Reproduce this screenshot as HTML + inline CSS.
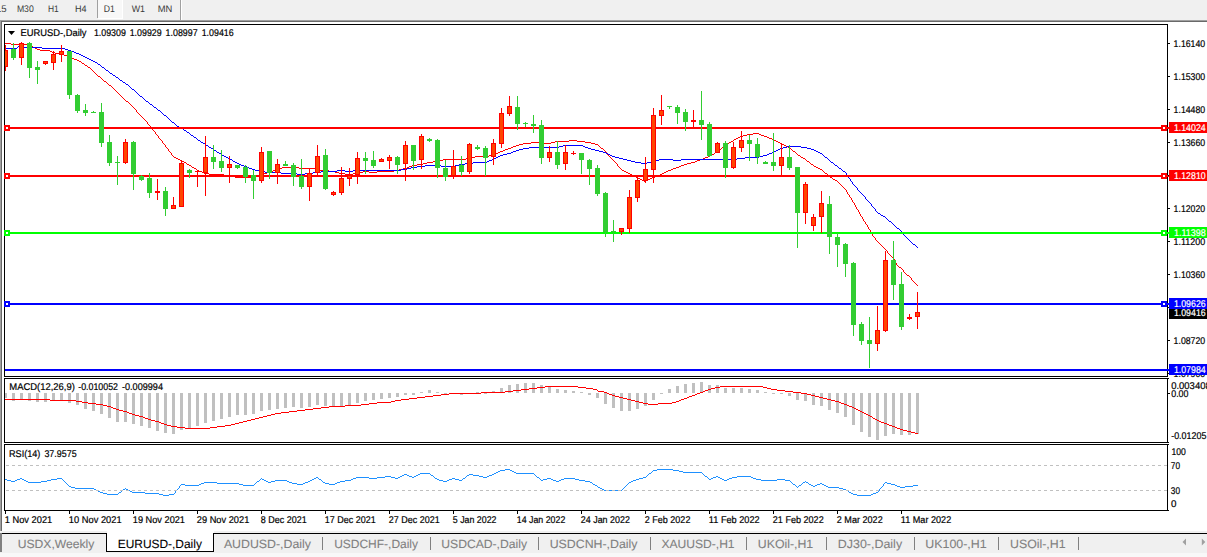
<!DOCTYPE html>
<html><head><meta charset="utf-8"><title>EURUSD-,Daily</title>
<style>html,body{margin:0;padding:0;background:#fff;overflow:hidden}body{width:1207px;height:557px}</style></head>
<body>
<svg width="1207" height="557" viewBox="0 0 1207 557" font-family="&quot;Liberation Sans&quot;, sans-serif" text-rendering="geometricPrecision" style="display:block">
<rect x="0" y="0" width="1207" height="557" fill="#ffffff" />
<g shape-rendering="crispEdges">
<rect x="0" y="0" width="1207" height="20" fill="#f0f0f0" />
<rect x="97" y="0" width="1" height="18" fill="#a0a0a0" />
<rect x="98" y="0" width="24" height="18" fill="#f8f8f8" />
<rect x="122" y="0" width="1" height="19" fill="#ffffff" />
<rect x="98" y="18" width="25" height="1" fill="#ffffff" />
<rect x="180" y="0" width="1" height="20" fill="#a0a0a0" />
<rect x="181" y="0" width="1" height="20" fill="#ffffff" />
<rect x="0" y="20" width="1207" height="1" fill="#a0a0a0" />
<rect x="1" y="21" width="1207" height="1" fill="#696969" />
<rect x="0" y="20" width="1" height="511" fill="#a0a0a0" />
<rect x="1" y="21" width="1" height="510" fill="#696969" />
<rect x="0" y="531" width="1207" height="2" fill="#f0f0f0" />
<rect x="0" y="533" width="1207" height="20" fill="#f0f0f0" />
<rect x="0" y="553" width="1207" height="4" fill="#f8f8f8" />
<rect x="0" y="533" width="1207" height="1" fill="#000000" />
<rect x="0" y="533" width="2" height="19" fill="#808080" />
<rect x="107" y="531" width="107" height="21" fill="#ffffff" />
<rect x="106" y="533" width="1" height="19" fill="#000000" />
<rect x="213" y="533" width="1" height="19" fill="#000000" />
<rect x="106" y="551" width="108" height="1" fill="#000000" />
<rect x="322" y="537" width="1" height="13" fill="#808080" />
<rect x="430" y="537" width="1" height="13" fill="#808080" />
<rect x="538" y="537" width="1" height="13" fill="#808080" />
<rect x="650" y="537" width="1" height="13" fill="#808080" />
<rect x="746" y="537" width="1" height="13" fill="#808080" />
<rect x="826" y="537" width="1" height="13" fill="#808080" />
<rect x="914" y="537" width="1" height="13" fill="#808080" />
<rect x="998" y="537" width="1" height="13" fill="#808080" />
<rect x="1078" y="537" width="1" height="13" fill="#808080" />
</g>
<path d="M1182.5 542 L1186 538.5 L1186 545.5 Z" fill="#a0a0a0"/>
<path d="M1205.3 542 L1201.8 538.5 L1201.8 545.5 Z" fill="#a0a0a0"/>
<g style="opacity:0.995">
<text x="6.6" y="12" font-size="9.6" fill="#3a3a3a" text-anchor="end" >M15</text>
<text x="16.9" y="12" font-size="9.6" fill="#3a3a3a" textLength="16.9" lengthAdjust="spacingAndGlyphs" >M30</text>
<text x="48" y="12" font-size="9.6" fill="#3a3a3a" textLength="10.8" lengthAdjust="spacingAndGlyphs" >H1</text>
<text x="74.9" y="12" font-size="9.6" fill="#3a3a3a" textLength="11.6" lengthAdjust="spacingAndGlyphs" >H4</text>
<text x="103.7" y="12" font-size="9.6" fill="#3a3a3a" textLength="11.1" lengthAdjust="spacingAndGlyphs" >D1</text>
<text x="131.7" y="12" font-size="9.6" fill="#3a3a3a" textLength="13.3" lengthAdjust="spacingAndGlyphs" >W1</text>
<text x="157.7" y="12" font-size="9.6" fill="#3a3a3a" textLength="14.6" lengthAdjust="spacingAndGlyphs" >MN</text>
</g>
<text x="17.7" y="547.6" font-size="12" fill="#808080" stroke="#808080" stroke-width="0.1" textLength="76.7" lengthAdjust="spacingAndGlyphs" >USDX,Weekly</text>
<text x="117.7" y="547.6" font-size="12" fill="#000000" stroke="#000000" stroke-width="0.1" textLength="84.2" lengthAdjust="spacingAndGlyphs" >EURUSD-,Daily</text>
<text x="223.9" y="547.6" font-size="12" fill="#808080" stroke="#808080" stroke-width="0.1" textLength="87.1" lengthAdjust="spacingAndGlyphs" >AUDUSD-,Daily</text>
<text x="334.2" y="547.6" font-size="12" fill="#808080" stroke="#808080" stroke-width="0.1" textLength="83.8" lengthAdjust="spacingAndGlyphs" >USDCHF-,Daily</text>
<text x="441.3" y="547.6" font-size="12" fill="#808080" stroke="#808080" stroke-width="0.1" textLength="85.7" lengthAdjust="spacingAndGlyphs" >USDCAD-,Daily</text>
<text x="549.7" y="547.6" font-size="12" fill="#808080" stroke="#808080" stroke-width="0.1" textLength="87.8" lengthAdjust="spacingAndGlyphs" >USDCNH-,Daily</text>
<text x="661.4" y="547.6" font-size="12" fill="#808080" stroke="#808080" stroke-width="0.1" textLength="73.2" lengthAdjust="spacingAndGlyphs" >XAUUSD-,H1</text>
<text x="757.8" y="547.6" font-size="12" fill="#808080" stroke="#808080" stroke-width="0.1" textLength="55.4" lengthAdjust="spacingAndGlyphs" >UKOil-,H1</text>
<text x="837.8" y="547.6" font-size="12" fill="#808080" stroke="#808080" stroke-width="0.1" textLength="64.3" lengthAdjust="spacingAndGlyphs" >DJ30-,Daily</text>
<text x="925.3" y="547.6" font-size="12" fill="#808080" stroke="#808080" stroke-width="0.1" textLength="61.3" lengthAdjust="spacingAndGlyphs" >UK100-,H1</text>
<text x="1010" y="547.6" font-size="12" fill="#808080" stroke="#808080" stroke-width="0.1" textLength="55.5" lengthAdjust="spacingAndGlyphs" >USOil-,H1</text>
<g shape-rendering="crispEdges">
</g>
<path d="M5 43.5h6M11 44.5h18M29 45.5h2M31 46.5h2M33 47.5h2M35 48.5h2M37 49.5h3M40 50.5h10M50 51.5h2M52 52.5h3M55 53.5h4M59 54.5h5M64 55.5h4M68 56.5h2M70 57.5h2M72 58.5h2M74 59.5h3M77 60.5h2M79 61.5h2M81 62.5h1M82 63.5h2M84 64.5h1M85 65.5h2M87 66.5h1M88 67.5h2M90 68.5h1M91 69.5h1M92 70.5h1M93 71.5h1M94 72.5h1M95 73.5h1M96 74.5h1M97 75.5h1M98 76.5h2M100 77.5h1M101 78.5h1M102 79.5h1M103 80.5h1M104 81.5h2M106 82.5h1M107 83.5h1M108 84.5h1M109 85.5h2M111 86.5h1M112 87.5h1M113 88.5h1M114 89.5h1M115 90.5h1M116 91.5h1M117 92.5h1M118 93.5h1M119 94.5h1M120 95.5h1M121 96.5h1M122 97.5h1M123 98.5h1M124 99.5h1M125 100.5h1M126 101.5h2M128 102.5h1M129 103.5h1M130 104.5h1M131 105.5h1M132 106.5h1M133 107.5h1M134 108.5h1M135 109.5h1M136 110.5h1M136 111.5h1M137 112.5h1M138 113.5h1M139 114.5h1M140 115.5h1M141 116.5h1M142 117.5h1M143 118.5h1M144 119.5h1M145 120.5h1M146 121.5h1M147 122.5h1M147 123.5h1M148 124.5h1M149 125.5h1M150 126.5h1M151 127.5h1M152 128.5h1M152 129.5h1M153 130.5h1M154 131.5h1M155 132.5h1M155 133.5h1M753 133.5h6M156 134.5h1M747 134.5h6M759 134.5h2M157 135.5h1M743 135.5h4M761 135.5h3M158 136.5h1M740 136.5h3M764 136.5h3M158 137.5h1M738 137.5h2M767 137.5h2M159 138.5h1M736 138.5h2M769 138.5h3M160 139.5h1M734 139.5h2M772 139.5h2M161 140.5h1M569 140.5h8M733 140.5h1M774 140.5h2M162 141.5h1M555 141.5h14M577 141.5h8M731 141.5h2M776 141.5h2M162 142.5h1M531 142.5h12M551 142.5h4M585 142.5h6M729 142.5h2M778 142.5h2M163 143.5h1M523 143.5h8M543 143.5h8M591 143.5h4M728 143.5h1M780 143.5h2M164 144.5h1M519 144.5h4M595 144.5h3M726 144.5h2M782 144.5h2M165 145.5h1M516 145.5h3M598 145.5h1M725 145.5h1M784 145.5h2M165 146.5h1M513 146.5h3M599 146.5h1M723 146.5h2M786 146.5h2M166 147.5h1M511 147.5h2M600 147.5h1M722 147.5h1M788 147.5h2M167 148.5h1M508 148.5h3M601 148.5h2M721 148.5h1M790 148.5h1M168 149.5h1M505 149.5h3M603 149.5h1M719 149.5h2M791 149.5h1M168 150.5h1M503 150.5h2M604 150.5h1M718 150.5h1M792 150.5h1M169 151.5h1M500 151.5h3M605 151.5h1M717 151.5h1M793 151.5h2M170 152.5h1M498 152.5h2M606 152.5h1M715 152.5h2M795 152.5h1M171 153.5h1M496 153.5h2M607 153.5h1M714 153.5h1M796 153.5h1M171 154.5h1M494 154.5h2M607 154.5h1M712 154.5h2M797 154.5h1M172 155.5h1M489 155.5h5M608 155.5h1M710 155.5h2M798 155.5h2M173 156.5h1M475 156.5h14M609 156.5h1M708 156.5h2M800 156.5h1M174 157.5h2M470 157.5h5M610 157.5h1M705 157.5h3M801 157.5h2M176 158.5h2M466 158.5h4M611 158.5h1M703 158.5h2M803 158.5h2M178 159.5h2M443 159.5h23M612 159.5h1M700 159.5h3M805 159.5h1M180 160.5h2M439 160.5h4M613 160.5h1M697 160.5h3M806 160.5h1M182 161.5h2M433 161.5h6M614 161.5h1M695 161.5h2M807 161.5h2M184 162.5h2M427 162.5h6M615 162.5h1M691 162.5h4M809 162.5h1M186 163.5h1M423 163.5h4M616 163.5h1M687 163.5h4M810 163.5h1M187 164.5h2M417 164.5h6M617 164.5h1M684 164.5h3M811 164.5h2M189 165.5h2M412 165.5h5M617 165.5h1M681 165.5h3M813 165.5h1M191 166.5h1M409 166.5h3M618 166.5h1M679 166.5h2M814 166.5h2M192 167.5h2M282 167.5h17M407 167.5h2M619 167.5h1M676 167.5h3M816 167.5h2M194 168.5h2M279 168.5h3M299 168.5h17M403 168.5h4M620 168.5h1M673 168.5h3M818 168.5h2M196 169.5h1M276 169.5h3M316 169.5h1M399 169.5h4M621 169.5h1M671 169.5h2M820 169.5h2M197 170.5h2M273 170.5h3M317 170.5h12M394 170.5h5M622 170.5h2M668 170.5h3M822 170.5h1M199 171.5h3M271 171.5h2M329 171.5h6M363 171.5h6M377 171.5h17M624 171.5h2M666 171.5h2M823 171.5h1M202 172.5h2M267 172.5h4M335 172.5h4M359 172.5h4M369 172.5h8M626 172.5h2M664 172.5h2M824 172.5h1M204 173.5h5M263 173.5h4M339 173.5h6M353 173.5h6M628 173.5h2M662 173.5h2M825 173.5h2M209 174.5h15M260 174.5h3M345 174.5h8M630 174.5h2M660 174.5h2M827 174.5h1M224 175.5h6M258 175.5h2M632 175.5h2M657 175.5h3M828 175.5h1M230 176.5h5M255 176.5h3M634 176.5h2M655 176.5h2M829 176.5h1M235 177.5h20M636 177.5h2M652 177.5h3M830 177.5h2M638 178.5h2M650 178.5h2M832 178.5h1M640 179.5h2M648 179.5h2M833 179.5h2M642 180.5h2M646 180.5h2M835 180.5h2M644 181.5h2M837 181.5h1M838 182.5h1M839 183.5h1M840 184.5h1M841 185.5h1M842 186.5h1M843 187.5h1M844 188.5h1M845 189.5h1M846 190.5h1M846 191.5h1M847 192.5h1M847 193.5h1M848 194.5h1M849 195.5h1M849 196.5h1M850 197.5h1M851 198.5h1M851 199.5h1M852 200.5h1M852 201.5h1M853 202.5h1M854 203.5h1M854 204.5h1M855 205.5h1M855 206.5h1M856 207.5h1M856 208.5h1M857 209.5h1M858 210.5h1M858 211.5h1M859 212.5h1M859 213.5h1M860 214.5h1M860 215.5h1M861 216.5h1M862 217.5h1M862 218.5h1M863 219.5h1M863 220.5h1M864 221.5h1M865 222.5h1M865 223.5h1M866 224.5h1M867 225.5h1M867 226.5h1M868 227.5h1M868 228.5h1M869 229.5h1M870 230.5h1M870 231.5h1M871 232.5h1M871 233.5h1M872 234.5h1M872 235.5h1M873 236.5h1M874 237.5h1M875 238.5h1M875 239.5h1M876 240.5h1M877 241.5h1M878 242.5h1M879 243.5h1M880 244.5h1M881 245.5h1M882 246.5h1M883 247.5h1M884 248.5h1M885 249.5h1M886 250.5h1M887 251.5h1M887 252.5h1M888 253.5h1M889 254.5h1M890 255.5h1M891 256.5h1M892 257.5h1M893 258.5h1M894 259.5h1M894 260.5h1M895 261.5h1M895 262.5h1M896 263.5h1M896 264.5h1M897 265.5h1M898 266.5h1M899 267.5h2M901 268.5h1M902 269.5h1M903 270.5h1M903 271.5h1M904 272.5h1M905 273.5h1M906 274.5h1M907 275.5h2M909 276.5h1M910 277.5h1M911 278.5h1M911 279.5h1M912 280.5h1M913 281.5h1M914 282.5h1M915 283.5h1M916 284.5h1M917 285.5h1" fill="none" stroke="#ff0000" stroke-width="1" shape-rendering="crispEdges"/>
<path d="M18 46.5h2M17 47.5h1M20 47.5h22M5 48.5h12M42 48.5h23M65 49.5h3M68 50.5h3M71 51.5h3M74 52.5h2M76 53.5h3M79 54.5h2M81 55.5h2M83 56.5h2M85 57.5h2M87 58.5h2M89 59.5h2M91 60.5h2M93 61.5h2M95 62.5h2M97 63.5h1M98 64.5h2M100 65.5h1M101 66.5h1M102 67.5h2M104 68.5h1M105 69.5h1M106 70.5h2M108 71.5h1M109 72.5h1M110 73.5h2M112 74.5h1M113 75.5h2M115 76.5h1M116 77.5h2M118 78.5h1M119 79.5h1M120 80.5h2M122 81.5h1M123 82.5h2M125 83.5h1M126 84.5h2M128 85.5h1M129 86.5h1M130 87.5h1M131 88.5h1M132 89.5h2M134 90.5h1M135 91.5h1M136 92.5h1M137 93.5h1M138 94.5h1M139 95.5h1M140 96.5h2M142 97.5h1M143 98.5h1M144 99.5h1M145 100.5h1M146 101.5h2M148 102.5h1M149 103.5h1M150 104.5h2M152 105.5h1M153 106.5h1M154 107.5h2M156 108.5h1M157 109.5h1M158 110.5h2M160 111.5h1M161 112.5h1M162 113.5h1M163 114.5h1M164 115.5h2M166 116.5h1M167 117.5h1M168 118.5h1M169 119.5h1M170 120.5h1M171 121.5h1M172 122.5h2M174 123.5h1M175 124.5h1M176 125.5h1M177 126.5h2M179 127.5h2M181 128.5h2M183 129.5h1M184 130.5h2M186 131.5h1M187 132.5h2M189 133.5h1M190 134.5h1M191 135.5h2M193 136.5h1M194 137.5h2M196 138.5h1M197 139.5h1M198 140.5h2M200 141.5h1M201 142.5h2M203 143.5h2M205 144.5h1M206 145.5h2M563 145.5h20M208 146.5h1M559 146.5h4M583 146.5h2M787 146.5h14M209 147.5h2M529 147.5h30M585 147.5h3M783 147.5h4M801 147.5h6M211 148.5h2M523 148.5h6M588 148.5h3M780 148.5h3M807 148.5h4M213 149.5h1M519 149.5h4M591 149.5h4M778 149.5h2M811 149.5h3M214 150.5h2M516 150.5h3M595 150.5h4M776 150.5h2M814 150.5h2M216 151.5h1M513 151.5h3M599 151.5h4M774 151.5h2M816 151.5h2M217 152.5h2M511 152.5h2M603 152.5h3M772 152.5h2M818 152.5h2M219 153.5h2M507 153.5h4M606 153.5h2M769 153.5h3M820 153.5h2M221 154.5h1M503 154.5h4M608 154.5h2M767 154.5h2M822 154.5h1M222 155.5h2M500 155.5h3M610 155.5h2M763 155.5h4M823 155.5h1M224 156.5h2M498 156.5h2M612 156.5h3M759 156.5h4M824 156.5h1M226 157.5h2M496 157.5h2M615 157.5h4M745 157.5h14M825 157.5h2M228 158.5h2M494 158.5h2M619 158.5h4M737 158.5h8M827 158.5h1M230 159.5h2M492 159.5h2M623 159.5h4M659 159.5h14M681 159.5h56M828 159.5h1M232 160.5h1M489 160.5h3M627 160.5h4M655 160.5h4M673 160.5h8M829 160.5h1M233 161.5h2M487 161.5h2M631 161.5h4M651 161.5h4M830 161.5h1M235 162.5h2M473 162.5h14M635 162.5h6M647 162.5h4M831 162.5h2M237 163.5h2M465 163.5h8M641 163.5h6M833 163.5h1M239 164.5h2M459 164.5h6M834 164.5h1M241 165.5h3M425 165.5h16M455 165.5h4M835 165.5h2M244 166.5h3M417 166.5h8M441 166.5h14M837 166.5h1M247 167.5h2M411 167.5h6M838 167.5h1M249 168.5h3M407 168.5h4M839 168.5h2M252 169.5h3M401 169.5h6M841 169.5h1M255 170.5h4M337 170.5h8M353 170.5h48M842 170.5h1M259 171.5h6M321 171.5h16M345 171.5h8M843 171.5h2M265 172.5h16M313 172.5h8M845 172.5h1M281 173.5h16M305 173.5h8M846 173.5h1M297 174.5h8M846 174.5h1M847 175.5h1M848 176.5h1M848 177.5h1M849 178.5h1M850 179.5h1M850 180.5h1M851 181.5h1M852 182.5h1M852 183.5h1M853 184.5h1M854 185.5h1M855 186.5h1M856 187.5h1M857 188.5h1M857 189.5h1M858 190.5h1M859 191.5h1M860 192.5h1M861 193.5h1M862 194.5h1M863 195.5h1M864 196.5h1M865 197.5h1M865 198.5h1M866 199.5h1M867 200.5h1M868 201.5h1M869 202.5h1M870 203.5h1M871 204.5h1M871 205.5h1M872 206.5h1M873 207.5h1M874 208.5h1M875 209.5h1M875 210.5h1M876 211.5h1M877 212.5h1M878 213.5h2M880 214.5h1M881 215.5h2M883 216.5h2M885 217.5h1M886 218.5h1M887 219.5h1M888 220.5h1M889 221.5h2M891 222.5h1M892 223.5h1M893 224.5h1M894 225.5h1M895 226.5h1M896 227.5h1M897 228.5h2M899 229.5h1M900 230.5h1M901 231.5h1M902 232.5h1M903 233.5h1M903 234.5h1M904 235.5h1M905 236.5h1M906 237.5h1M907 238.5h1M908 239.5h1M909 240.5h1M910 241.5h1M911 242.5h1M912 243.5h1M913 244.5h2M915 245.5h1M916 246.5h1M917 247.5h1" fill="none" stroke="#0000ff" stroke-width="1" shape-rendering="crispEdges"/>
<g shape-rendering="crispEdges">
<rect x="5" y="127" width="1164" height="2" fill="#ff0000" />
<rect x="1161" y="125" width="6" height="6" fill="#ff0000" />
<rect x="1163" y="127" width="2" height="2" fill="#ffffff" />
<rect x="5" y="175" width="1164" height="2" fill="#ff0000" />
<rect x="1161" y="173" width="6" height="6" fill="#ff0000" />
<rect x="1163" y="175" width="2" height="2" fill="#ffffff" />
<rect x="5" y="232" width="1164" height="2" fill="#00ff00" />
<rect x="1161" y="230" width="6" height="6" fill="#00ff00" />
<rect x="1163" y="232" width="2" height="2" fill="#ffffff" />
<rect x="5" y="303" width="1164" height="2" fill="#0000ff" />
<rect x="1161" y="301" width="6" height="6" fill="#0000ff" />
<rect x="1163" y="303" width="2" height="2" fill="#ffffff" />
<rect x="5" y="369" width="1164" height="2" fill="#0000ff" />
<rect x="5" y="45" width="1" height="26" fill="#ff0000" />
<rect x="5" y="50" width="3" height="17" fill="#ff0000" />
<rect x="5" y="51" width="2" height="15" fill="#ff4500" />
<rect x="13" y="43" width="1" height="17" fill="#32cd32" />
<rect x="11" y="49" width="5" height="9" fill="#32cd32" />
<rect x="21" y="42" width="1" height="23" fill="#ff0000" />
<rect x="19" y="43" width="5" height="15" fill="#ff0000" />
<rect x="20" y="44" width="3" height="13" fill="#ff4500" />
<rect x="29" y="42" width="1" height="36" fill="#32cd32" />
<rect x="27" y="43" width="5" height="25" fill="#32cd32" />
<rect x="37" y="61" width="1" height="23" fill="#32cd32" />
<rect x="35" y="67" width="5" height="3" fill="#32cd32" />
<rect x="45" y="61" width="1" height="4" fill="#ff0000" />
<rect x="43" y="61" width="5" height="3" fill="#ff0000" />
<rect x="44" y="62" width="3" height="1" fill="#ff4500" />
<rect x="53" y="51" width="1" height="19" fill="#ff0000" />
<rect x="51" y="54" width="5" height="9" fill="#ff0000" />
<rect x="52" y="55" width="3" height="7" fill="#ff4500" />
<rect x="61" y="45" width="1" height="17" fill="#ff0000" />
<rect x="59" y="51" width="5" height="4" fill="#ff0000" />
<rect x="60" y="52" width="3" height="2" fill="#ff4500" />
<rect x="69" y="51" width="1" height="48" fill="#32cd32" />
<rect x="67" y="51" width="5" height="44" fill="#32cd32" />
<rect x="77" y="94" width="1" height="19" fill="#32cd32" />
<rect x="75" y="95" width="5" height="16" fill="#32cd32" />
<rect x="85" y="104" width="1" height="12" fill="#32cd32" />
<rect x="83" y="110" width="5" height="3" fill="#32cd32" />
<rect x="93" y="111" width="1" height="2" fill="#32cd32" />
<rect x="91" y="112" width="5" height="1" fill="#32cd32" />
<rect x="101" y="103" width="1" height="44" fill="#32cd32" />
<rect x="99" y="112" width="5" height="31" fill="#32cd32" />
<rect x="109" y="135" width="1" height="31" fill="#32cd32" />
<rect x="107" y="142" width="5" height="21" fill="#32cd32" />
<rect x="117" y="156" width="1" height="29" fill="#32cd32" />
<rect x="115" y="162" width="5" height="1" fill="#32cd32" />
<rect x="125" y="139" width="1" height="25" fill="#ff0000" />
<rect x="123" y="142" width="5" height="21" fill="#ff0000" />
<rect x="124" y="143" width="3" height="19" fill="#ff4500" />
<rect x="133" y="141" width="1" height="49" fill="#32cd32" />
<rect x="131" y="142" width="5" height="32" fill="#32cd32" />
<rect x="141" y="175" width="1" height="6" fill="#32cd32" />
<rect x="139" y="176" width="5" height="4" fill="#32cd32" />
<rect x="149" y="173" width="1" height="25" fill="#32cd32" />
<rect x="147" y="178" width="5" height="15" fill="#32cd32" />
<rect x="157" y="179" width="1" height="21" fill="#ff0000" />
<rect x="155" y="191" width="5" height="2" fill="#ff0000" />
<rect x="165" y="187" width="1" height="29" fill="#32cd32" />
<rect x="163" y="191" width="5" height="18" fill="#32cd32" />
<rect x="173" y="197" width="1" height="12" fill="#ff0000" />
<rect x="171" y="205" width="5" height="4" fill="#ff0000" />
<rect x="172" y="206" width="3" height="2" fill="#ff4500" />
<rect x="181" y="160" width="1" height="47" fill="#ff0000" />
<rect x="179" y="163" width="5" height="44" fill="#ff0000" />
<rect x="180" y="164" width="3" height="42" fill="#ff4500" />
<rect x="189" y="169" width="1" height="9" fill="#32cd32" />
<rect x="187" y="170" width="5" height="3" fill="#32cd32" />
<rect x="197" y="170" width="1" height="17" fill="#ff0000" />
<rect x="195" y="171" width="5" height="1" fill="#ff0000" />
<rect x="205" y="136" width="1" height="60" fill="#ff0000" />
<rect x="203" y="157" width="5" height="16" fill="#ff0000" />
<rect x="204" y="158" width="3" height="14" fill="#ff4500" />
<rect x="213" y="145" width="1" height="24" fill="#32cd32" />
<rect x="211" y="157" width="5" height="5" fill="#32cd32" />
<rect x="221" y="150" width="1" height="22" fill="#32cd32" />
<rect x="219" y="161" width="5" height="7" fill="#32cd32" />
<rect x="229" y="156" width="1" height="27" fill="#ff0000" />
<rect x="227" y="164" width="5" height="4" fill="#ff0000" />
<rect x="228" y="165" width="3" height="2" fill="#ff4500" />
<rect x="237" y="165" width="1" height="4" fill="#32cd32" />
<rect x="235" y="165" width="5" height="3" fill="#32cd32" />
<rect x="245" y="165" width="1" height="18" fill="#32cd32" />
<rect x="243" y="167" width="5" height="10" fill="#32cd32" />
<rect x="253" y="170" width="1" height="29" fill="#32cd32" />
<rect x="251" y="175" width="5" height="6" fill="#32cd32" />
<rect x="261" y="147" width="1" height="36" fill="#ff0000" />
<rect x="259" y="152" width="5" height="29" fill="#ff0000" />
<rect x="260" y="153" width="3" height="27" fill="#ff4500" />
<rect x="269" y="151" width="1" height="28" fill="#32cd32" />
<rect x="267" y="151" width="5" height="22" fill="#32cd32" />
<rect x="277" y="159" width="1" height="25" fill="#ff0000" />
<rect x="275" y="164" width="5" height="9" fill="#ff0000" />
<rect x="276" y="165" width="3" height="7" fill="#ff4500" />
<rect x="285" y="161" width="1" height="5" fill="#32cd32" />
<rect x="283" y="164" width="5" height="2" fill="#32cd32" />
<rect x="293" y="163" width="1" height="23" fill="#32cd32" />
<rect x="291" y="165" width="5" height="12" fill="#32cd32" />
<rect x="301" y="159" width="1" height="30" fill="#32cd32" />
<rect x="299" y="176" width="5" height="11" fill="#32cd32" />
<rect x="309" y="169" width="1" height="32" fill="#ff0000" />
<rect x="307" y="173" width="5" height="14" fill="#ff0000" />
<rect x="308" y="174" width="3" height="12" fill="#ff4500" />
<rect x="317" y="145" width="1" height="30" fill="#ff0000" />
<rect x="315" y="156" width="5" height="17" fill="#ff0000" />
<rect x="316" y="157" width="3" height="15" fill="#ff4500" />
<rect x="325" y="149" width="1" height="41" fill="#32cd32" />
<rect x="323" y="155" width="5" height="34" fill="#32cd32" />
<rect x="333" y="191" width="1" height="5" fill="#ff0000" />
<rect x="331" y="192" width="5" height="3" fill="#ff0000" />
<rect x="332" y="193" width="3" height="1" fill="#ff4500" />
<rect x="341" y="167" width="1" height="28" fill="#ff0000" />
<rect x="339" y="178" width="5" height="15" fill="#ff0000" />
<rect x="340" y="179" width="3" height="13" fill="#ff4500" />
<rect x="349" y="168" width="1" height="18" fill="#ff0000" />
<rect x="347" y="175" width="5" height="4" fill="#ff0000" />
<rect x="348" y="176" width="3" height="2" fill="#ff4500" />
<rect x="357" y="152" width="1" height="32" fill="#ff0000" />
<rect x="355" y="158" width="5" height="17" fill="#ff0000" />
<rect x="356" y="159" width="3" height="15" fill="#ff4500" />
<rect x="365" y="152" width="1" height="22" fill="#32cd32" />
<rect x="363" y="158" width="5" height="3" fill="#32cd32" />
<rect x="373" y="151" width="1" height="17" fill="#32cd32" />
<rect x="371" y="160" width="5" height="6" fill="#32cd32" />
<rect x="381" y="158" width="1" height="4" fill="#ff0000" />
<rect x="379" y="159" width="5" height="3" fill="#ff0000" />
<rect x="380" y="160" width="3" height="1" fill="#ff4500" />
<rect x="389" y="155" width="1" height="14" fill="#ff0000" />
<rect x="387" y="157" width="5" height="4" fill="#ff0000" />
<rect x="388" y="158" width="3" height="2" fill="#ff4500" />
<rect x="397" y="156" width="1" height="18" fill="#32cd32" />
<rect x="395" y="157" width="5" height="8" fill="#32cd32" />
<rect x="405" y="141" width="1" height="40" fill="#ff0000" />
<rect x="403" y="145" width="5" height="19" fill="#ff0000" />
<rect x="404" y="146" width="3" height="17" fill="#ff4500" />
<rect x="413" y="145" width="1" height="25" fill="#32cd32" />
<rect x="411" y="145" width="5" height="16" fill="#32cd32" />
<rect x="421" y="134" width="1" height="35" fill="#ff0000" />
<rect x="419" y="136" width="5" height="24" fill="#ff0000" />
<rect x="420" y="137" width="3" height="22" fill="#ff4500" />
<rect x="429" y="138" width="1" height="4" fill="#32cd32" />
<rect x="427" y="139" width="5" height="2" fill="#32cd32" />
<rect x="437" y="139" width="1" height="39" fill="#32cd32" />
<rect x="435" y="140" width="5" height="28" fill="#32cd32" />
<rect x="445" y="160" width="1" height="21" fill="#32cd32" />
<rect x="443" y="168" width="5" height="9" fill="#32cd32" />
<rect x="453" y="150" width="1" height="29" fill="#ff0000" />
<rect x="451" y="166" width="5" height="10" fill="#ff0000" />
<rect x="452" y="167" width="3" height="8" fill="#ff4500" />
<rect x="461" y="156" width="1" height="20" fill="#32cd32" />
<rect x="459" y="165" width="5" height="7" fill="#32cd32" />
<rect x="469" y="143" width="1" height="31" fill="#ff0000" />
<rect x="467" y="144" width="5" height="28" fill="#ff0000" />
<rect x="468" y="145" width="3" height="26" fill="#ff4500" />
<rect x="477" y="145" width="1" height="5" fill="#32cd32" />
<rect x="475" y="147" width="5" height="2" fill="#32cd32" />
<rect x="485" y="146" width="1" height="30" fill="#32cd32" />
<rect x="483" y="148" width="5" height="10" fill="#32cd32" />
<rect x="493" y="139" width="1" height="26" fill="#ff0000" />
<rect x="491" y="143" width="5" height="14" fill="#ff0000" />
<rect x="492" y="144" width="3" height="12" fill="#ff4500" />
<rect x="501" y="108" width="1" height="40" fill="#ff0000" />
<rect x="499" y="113" width="5" height="31" fill="#ff0000" />
<rect x="500" y="114" width="3" height="29" fill="#ff4500" />
<rect x="509" y="96" width="1" height="20" fill="#ff0000" />
<rect x="507" y="106" width="5" height="8" fill="#ff0000" />
<rect x="508" y="107" width="3" height="6" fill="#ff4500" />
<rect x="517" y="96" width="1" height="34" fill="#32cd32" />
<rect x="515" y="107" width="5" height="17" fill="#32cd32" />
<rect x="525" y="122" width="1" height="5" fill="#32cd32" />
<rect x="523" y="123" width="5" height="1" fill="#32cd32" />
<rect x="533" y="115" width="1" height="18" fill="#32cd32" />
<rect x="531" y="124" width="5" height="2" fill="#32cd32" />
<rect x="541" y="120" width="1" height="44" fill="#32cd32" />
<rect x="539" y="125" width="5" height="33" fill="#32cd32" />
<rect x="549" y="146" width="1" height="16" fill="#ff0000" />
<rect x="547" y="152" width="5" height="6" fill="#ff0000" />
<rect x="548" y="153" width="3" height="4" fill="#ff4500" />
<rect x="557" y="141" width="1" height="28" fill="#32cd32" />
<rect x="555" y="152" width="5" height="13" fill="#32cd32" />
<rect x="565" y="145" width="1" height="25" fill="#ff0000" />
<rect x="563" y="152" width="5" height="12" fill="#ff0000" />
<rect x="564" y="153" width="3" height="10" fill="#ff4500" />
<rect x="573" y="151" width="1" height="4" fill="#ff0000" />
<rect x="571" y="153" width="5" height="1" fill="#ff0000" />
<rect x="581" y="153" width="1" height="21" fill="#32cd32" />
<rect x="579" y="153" width="5" height="7" fill="#32cd32" />
<rect x="589" y="159" width="1" height="26" fill="#32cd32" />
<rect x="587" y="160" width="5" height="9" fill="#32cd32" />
<rect x="597" y="165" width="1" height="31" fill="#32cd32" />
<rect x="595" y="168" width="5" height="26" fill="#32cd32" />
<rect x="605" y="192" width="1" height="45" fill="#32cd32" />
<rect x="603" y="193" width="5" height="39" fill="#32cd32" />
<rect x="613" y="220" width="1" height="22" fill="#32cd32" />
<rect x="611" y="231" width="5" height="1" fill="#32cd32" />
<rect x="621" y="228" width="1" height="7" fill="#ff0000" />
<rect x="619" y="228" width="5" height="4" fill="#ff0000" />
<rect x="620" y="229" width="3" height="2" fill="#ff4500" />
<rect x="629" y="190" width="1" height="43" fill="#ff0000" />
<rect x="627" y="197" width="5" height="32" fill="#ff0000" />
<rect x="628" y="198" width="3" height="30" fill="#ff4500" />
<rect x="637" y="178" width="1" height="24" fill="#ff0000" />
<rect x="635" y="180" width="5" height="18" fill="#ff0000" />
<rect x="636" y="181" width="3" height="16" fill="#ff4500" />
<rect x="645" y="157" width="1" height="26" fill="#ff0000" />
<rect x="643" y="169" width="5" height="12" fill="#ff0000" />
<rect x="644" y="170" width="3" height="10" fill="#ff4500" />
<rect x="653" y="108" width="1" height="75" fill="#ff0000" />
<rect x="651" y="115" width="5" height="55" fill="#ff0000" />
<rect x="652" y="116" width="3" height="53" fill="#ff4500" />
<rect x="661" y="95" width="1" height="30" fill="#ff0000" />
<rect x="659" y="110" width="5" height="6" fill="#ff0000" />
<rect x="660" y="111" width="3" height="4" fill="#ff4500" />
<rect x="669" y="106" width="1" height="3" fill="#32cd32" />
<rect x="667" y="106" width="5" height="1" fill="#32cd32" />
<rect x="677" y="105" width="1" height="19" fill="#32cd32" />
<rect x="675" y="107" width="5" height="6" fill="#32cd32" />
<rect x="685" y="109" width="1" height="22" fill="#32cd32" />
<rect x="683" y="112" width="5" height="10" fill="#32cd32" />
<rect x="693" y="110" width="1" height="17" fill="#ff0000" />
<rect x="691" y="120" width="5" height="2" fill="#ff0000" />
<rect x="701" y="91" width="1" height="49" fill="#32cd32" />
<rect x="699" y="120" width="5" height="5" fill="#32cd32" />
<rect x="709" y="122" width="1" height="35" fill="#32cd32" />
<rect x="707" y="124" width="5" height="32" fill="#32cd32" />
<rect x="717" y="142" width="1" height="11" fill="#ff0000" />
<rect x="715" y="143" width="5" height="10" fill="#ff0000" />
<rect x="716" y="144" width="3" height="8" fill="#ff4500" />
<rect x="725" y="141" width="1" height="37" fill="#32cd32" />
<rect x="723" y="143" width="5" height="25" fill="#32cd32" />
<rect x="733" y="142" width="1" height="27" fill="#ff0000" />
<rect x="731" y="147" width="5" height="21" fill="#ff0000" />
<rect x="732" y="148" width="3" height="19" fill="#ff4500" />
<rect x="741" y="131" width="1" height="21" fill="#ff0000" />
<rect x="739" y="140" width="5" height="8" fill="#ff0000" />
<rect x="740" y="141" width="3" height="6" fill="#ff4500" />
<rect x="749" y="135" width="1" height="26" fill="#32cd32" />
<rect x="747" y="140" width="5" height="4" fill="#32cd32" />
<rect x="757" y="138" width="1" height="26" fill="#32cd32" />
<rect x="755" y="144" width="5" height="13" fill="#32cd32" />
<rect x="765" y="161" width="1" height="3" fill="#32cd32" />
<rect x="763" y="162" width="5" height="2" fill="#32cd32" />
<rect x="773" y="133" width="1" height="38" fill="#32cd32" />
<rect x="771" y="162" width="5" height="4" fill="#32cd32" />
<rect x="781" y="143" width="1" height="33" fill="#ff0000" />
<rect x="779" y="157" width="5" height="9" fill="#ff0000" />
<rect x="780" y="158" width="3" height="7" fill="#ff4500" />
<rect x="789" y="145" width="1" height="25" fill="#32cd32" />
<rect x="787" y="157" width="5" height="11" fill="#32cd32" />
<rect x="797" y="167" width="1" height="81" fill="#32cd32" />
<rect x="795" y="167" width="5" height="46" fill="#32cd32" />
<rect x="805" y="182" width="1" height="42" fill="#ff0000" />
<rect x="803" y="184" width="5" height="29" fill="#ff0000" />
<rect x="804" y="185" width="3" height="27" fill="#ff4500" />
<rect x="813" y="214" width="1" height="17" fill="#ff0000" />
<rect x="811" y="217" width="5" height="9" fill="#ff0000" />
<rect x="812" y="218" width="3" height="7" fill="#ff4500" />
<rect x="821" y="191" width="1" height="42" fill="#ff0000" />
<rect x="819" y="203" width="5" height="14" fill="#ff0000" />
<rect x="820" y="204" width="3" height="12" fill="#ff4500" />
<rect x="829" y="196" width="1" height="58" fill="#32cd32" />
<rect x="827" y="204" width="5" height="33" fill="#32cd32" />
<rect x="837" y="233" width="1" height="34" fill="#32cd32" />
<rect x="835" y="237" width="5" height="8" fill="#32cd32" />
<rect x="845" y="243" width="1" height="34" fill="#32cd32" />
<rect x="843" y="244" width="5" height="20" fill="#32cd32" />
<rect x="853" y="262" width="1" height="74" fill="#32cd32" />
<rect x="851" y="263" width="5" height="62" fill="#32cd32" />
<rect x="861" y="322" width="1" height="23" fill="#32cd32" />
<rect x="859" y="324" width="5" height="17" fill="#32cd32" />
<rect x="869" y="317" width="1" height="51" fill="#32cd32" />
<rect x="867" y="340" width="5" height="4" fill="#32cd32" />
<rect x="877" y="306" width="1" height="45" fill="#ff0000" />
<rect x="875" y="330" width="5" height="14" fill="#ff0000" />
<rect x="876" y="331" width="3" height="12" fill="#ff4500" />
<rect x="885" y="251" width="1" height="81" fill="#ff0000" />
<rect x="883" y="260" width="5" height="71" fill="#ff0000" />
<rect x="884" y="261" width="3" height="69" fill="#ff4500" />
<rect x="893" y="241" width="1" height="59" fill="#32cd32" />
<rect x="891" y="260" width="5" height="25" fill="#32cd32" />
<rect x="901" y="272" width="1" height="58" fill="#32cd32" />
<rect x="899" y="284" width="5" height="43" fill="#32cd32" />
<rect x="909" y="314" width="1" height="6" fill="#ff0000" />
<rect x="907" y="317" width="5" height="2" fill="#ff0000" />
<rect x="917" y="292" width="1" height="37" fill="#ff0000" />
<rect x="915" y="312" width="5" height="5" fill="#ff0000" />
<rect x="916" y="313" width="3" height="3" fill="#ff4500" />
</g>
<g shape-rendering="crispEdges">
<rect x="4" y="393" width="3" height="5" fill="#c0c0c0" />
<rect x="12" y="393" width="3" height="8" fill="#c0c0c0" />
<rect x="20" y="393" width="3" height="7" fill="#c0c0c0" />
<rect x="28" y="393" width="3" height="8" fill="#c0c0c0" />
<rect x="36" y="393" width="3" height="9" fill="#c0c0c0" />
<rect x="44" y="393" width="3" height="9" fill="#c0c0c0" />
<rect x="52" y="393" width="3" height="8" fill="#c0c0c0" />
<rect x="60" y="393" width="3" height="7" fill="#c0c0c0" />
<rect x="68" y="393" width="3" height="10" fill="#c0c0c0" />
<rect x="76" y="393" width="3" height="12" fill="#c0c0c0" />
<rect x="84" y="393" width="3" height="16" fill="#c0c0c0" />
<rect x="92" y="393" width="3" height="18" fill="#c0c0c0" />
<rect x="100" y="393" width="3" height="21" fill="#c0c0c0" />
<rect x="108" y="393" width="3" height="25" fill="#c0c0c0" />
<rect x="116" y="393" width="3" height="29" fill="#c0c0c0" />
<rect x="124" y="393" width="3" height="29" fill="#c0c0c0" />
<rect x="132" y="393" width="3" height="31" fill="#c0c0c0" />
<rect x="140" y="393" width="3" height="33" fill="#c0c0c0" />
<rect x="148" y="393" width="3" height="35" fill="#c0c0c0" />
<rect x="156" y="393" width="3" height="38" fill="#c0c0c0" />
<rect x="164" y="393" width="3" height="40" fill="#c0c0c0" />
<rect x="172" y="393" width="3" height="41" fill="#c0c0c0" />
<rect x="180" y="393" width="3" height="37" fill="#c0c0c0" />
<rect x="188" y="393" width="3" height="35" fill="#c0c0c0" />
<rect x="196" y="393" width="3" height="33" fill="#c0c0c0" />
<rect x="204" y="393" width="3" height="30" fill="#c0c0c0" />
<rect x="212" y="393" width="3" height="28" fill="#c0c0c0" />
<rect x="220" y="393" width="3" height="26" fill="#c0c0c0" />
<rect x="228" y="393" width="3" height="24" fill="#c0c0c0" />
<rect x="236" y="393" width="3" height="22" fill="#c0c0c0" />
<rect x="244" y="393" width="3" height="22" fill="#c0c0c0" />
<rect x="252" y="393" width="3" height="21" fill="#c0c0c0" />
<rect x="260" y="393" width="3" height="18" fill="#c0c0c0" />
<rect x="268" y="393" width="3" height="17" fill="#c0c0c0" />
<rect x="276" y="393" width="3" height="16" fill="#c0c0c0" />
<rect x="284" y="393" width="3" height="15" fill="#c0c0c0" />
<rect x="292" y="393" width="3" height="14" fill="#c0c0c0" />
<rect x="300" y="393" width="3" height="15" fill="#c0c0c0" />
<rect x="308" y="393" width="3" height="14" fill="#c0c0c0" />
<rect x="316" y="393" width="3" height="12" fill="#c0c0c0" />
<rect x="324" y="393" width="3" height="13" fill="#c0c0c0" />
<rect x="332" y="393" width="3" height="13" fill="#c0c0c0" />
<rect x="340" y="393" width="3" height="13" fill="#c0c0c0" />
<rect x="348" y="393" width="3" height="12" fill="#c0c0c0" />
<rect x="356" y="393" width="3" height="10" fill="#c0c0c0" />
<rect x="364" y="393" width="3" height="8" fill="#c0c0c0" />
<rect x="372" y="393" width="3" height="7" fill="#c0c0c0" />
<rect x="380" y="393" width="3" height="6" fill="#c0c0c0" />
<rect x="388" y="393" width="3" height="5" fill="#c0c0c0" />
<rect x="396" y="393" width="3" height="4" fill="#c0c0c0" />
<rect x="404" y="393" width="3" height="2" fill="#c0c0c0" />
<rect x="412" y="393" width="3" height="2" fill="#c0c0c0" />
<rect x="444" y="393" width="3" height="1" fill="#c0c0c0" />
<rect x="452" y="393" width="3" height="1" fill="#c0c0c0" />
<rect x="460" y="393" width="3" height="2" fill="#c0c0c0" />
<rect x="468" y="393" width="3" height="1" fill="#c0c0c0" />
<rect x="484" y="393" width="3" height="1" fill="#c0c0c0" />
<rect x="588" y="393" width="3" height="2" fill="#c0c0c0" />
<rect x="596" y="393" width="3" height="5" fill="#c0c0c0" />
<rect x="604" y="393" width="3" height="11" fill="#c0c0c0" />
<rect x="612" y="393" width="3" height="15" fill="#c0c0c0" />
<rect x="620" y="393" width="3" height="18" fill="#c0c0c0" />
<rect x="628" y="393" width="3" height="18" fill="#c0c0c0" />
<rect x="636" y="393" width="3" height="16" fill="#c0c0c0" />
<rect x="644" y="393" width="3" height="13" fill="#c0c0c0" />
<rect x="652" y="393" width="3" height="7" fill="#c0c0c0" />
<rect x="660" y="393" width="3" height="1" fill="#c0c0c0" />
<rect x="772" y="393" width="3" height="1" fill="#c0c0c0" />
<rect x="780" y="393" width="3" height="1" fill="#c0c0c0" />
<rect x="788" y="393" width="3" height="3" fill="#c0c0c0" />
<rect x="796" y="393" width="3" height="7" fill="#c0c0c0" />
<rect x="804" y="393" width="3" height="8" fill="#c0c0c0" />
<rect x="812" y="393" width="3" height="12" fill="#c0c0c0" />
<rect x="820" y="393" width="3" height="13" fill="#c0c0c0" />
<rect x="828" y="393" width="3" height="17" fill="#c0c0c0" />
<rect x="836" y="393" width="3" height="20" fill="#c0c0c0" />
<rect x="844" y="393" width="3" height="24" fill="#c0c0c0" />
<rect x="852" y="393" width="3" height="32" fill="#c0c0c0" />
<rect x="860" y="393" width="3" height="39" fill="#c0c0c0" />
<rect x="868" y="393" width="3" height="44" fill="#c0c0c0" />
<rect x="876" y="393" width="3" height="47" fill="#c0c0c0" />
<rect x="884" y="393" width="3" height="43" fill="#c0c0c0" />
<rect x="892" y="393" width="3" height="41" fill="#c0c0c0" />
<rect x="900" y="393" width="3" height="42" fill="#c0c0c0" />
<rect x="908" y="393" width="3" height="42" fill="#c0c0c0" />
<rect x="916" y="393" width="3" height="41" fill="#c0c0c0" />
<rect x="420" y="392" width="3" height="1" fill="#c0c0c0" />
<rect x="428" y="390" width="3" height="3" fill="#c0c0c0" />
<rect x="436" y="392" width="3" height="1" fill="#c0c0c0" />
<rect x="476" y="392" width="3" height="1" fill="#c0c0c0" />
<rect x="492" y="391" width="3" height="2" fill="#c0c0c0" />
<rect x="500" y="388" width="3" height="5" fill="#c0c0c0" />
<rect x="508" y="385" width="3" height="8" fill="#c0c0c0" />
<rect x="516" y="384" width="3" height="9" fill="#c0c0c0" />
<rect x="524" y="383" width="3" height="10" fill="#c0c0c0" />
<rect x="532" y="383" width="3" height="10" fill="#c0c0c0" />
<rect x="540" y="385" width="3" height="8" fill="#c0c0c0" />
<rect x="548" y="387" width="3" height="6" fill="#c0c0c0" />
<rect x="556" y="389" width="3" height="4" fill="#c0c0c0" />
<rect x="564" y="390" width="3" height="3" fill="#c0c0c0" />
<rect x="572" y="391" width="3" height="2" fill="#c0c0c0" />
<rect x="580" y="392" width="3" height="1" fill="#c0c0c0" />
<rect x="668" y="389" width="3" height="4" fill="#c0c0c0" />
<rect x="676" y="386" width="3" height="7" fill="#c0c0c0" />
<rect x="684" y="384" width="3" height="9" fill="#c0c0c0" />
<rect x="692" y="383" width="3" height="10" fill="#c0c0c0" />
<rect x="700" y="382" width="3" height="11" fill="#c0c0c0" />
<rect x="708" y="385" width="3" height="8" fill="#c0c0c0" />
<rect x="716" y="385" width="3" height="8" fill="#c0c0c0" />
<rect x="724" y="388" width="3" height="5" fill="#c0c0c0" />
<rect x="732" y="388" width="3" height="5" fill="#c0c0c0" />
<rect x="740" y="388" width="3" height="5" fill="#c0c0c0" />
<rect x="748" y="389" width="3" height="4" fill="#c0c0c0" />
<rect x="756" y="390" width="3" height="3" fill="#c0c0c0" />
<rect x="764" y="392" width="3" height="1" fill="#c0c0c0" />
</g>
<path d="M545 386.5h33M720 386.5h43M537 387.5h8M578 387.5h8M715 387.5h5M763 387.5h4M529 388.5h8M586 388.5h7M711 388.5h4M767 388.5h4M521 389.5h8M593 389.5h4M708 389.5h3M771 389.5h6M513 390.5h8M597 390.5h1M705 390.5h3M777 390.5h8M505 391.5h8M598 391.5h6M703 391.5h2M785 391.5h8M481 392.5h24M604 392.5h3M700 392.5h3M793 392.5h8M449 393.5h32M607 393.5h2M697 393.5h3M801 393.5h6M441 394.5h8M609 394.5h3M695 394.5h2M807 394.5h4M433 395.5h8M612 395.5h3M692 395.5h3M811 395.5h4M425 396.5h8M615 396.5h4M689 396.5h3M815 396.5h4M417 397.5h8M619 397.5h4M687 397.5h2M819 397.5h4M409 398.5h8M623 398.5h4M684 398.5h3M823 398.5h4M5 399.5h45M401 399.5h8M627 399.5h4M681 399.5h3M827 399.5h4M50 400.5h26M395 400.5h6M631 400.5h4M679 400.5h2M831 400.5h4M76 401.5h6M391 401.5h4M635 401.5h4M676 401.5h3M835 401.5h4M82 402.5h6M377 402.5h14M639 402.5h4M672 402.5h4M839 402.5h2M88 403.5h8M369 403.5h8M643 403.5h5M658 403.5h14M841 403.5h3M96 404.5h7M361 404.5h8M648 404.5h10M844 404.5h3M103 405.5h4M345 405.5h16M847 405.5h2M107 406.5h4M329 406.5h16M849 406.5h3M111 407.5h2M321 407.5h8M852 407.5h2M113 408.5h3M313 408.5h8M854 408.5h2M116 409.5h3M305 409.5h8M856 409.5h2M119 410.5h4M297 410.5h8M858 410.5h2M123 411.5h4M289 411.5h8M860 411.5h2M127 412.5h2M281 412.5h8M862 412.5h2M129 413.5h3M275 413.5h6M864 413.5h2M132 414.5h3M271 414.5h4M866 414.5h2M135 415.5h4M267 415.5h4M868 415.5h2M139 416.5h4M263 416.5h4M870 416.5h2M143 417.5h2M259 417.5h4M872 417.5h1M145 418.5h3M255 418.5h4M873 418.5h2M148 419.5h3M251 419.5h4M875 419.5h2M151 420.5h4M247 420.5h4M877 420.5h2M155 421.5h4M243 421.5h4M879 421.5h2M159 422.5h2M239 422.5h4M881 422.5h3M161 423.5h3M235 423.5h4M884 423.5h3M164 424.5h3M231 424.5h4M887 424.5h2M167 425.5h4M225 425.5h6M889 425.5h3M171 426.5h6M217 426.5h8M892 426.5h3M177 427.5h8M210 427.5h7M895 427.5h2M185 428.5h25M897 428.5h3M900 429.5h3M903 430.5h4M907 431.5h4M911 432.5h4M915 433.5h3" fill="none" stroke="#ff0000" stroke-width="1" shape-rendering="crispEdges"/>
<path d="M505 469.5h5M657 469.5h16M500 470.5h5M510 470.5h2M653 470.5h4M673 470.5h6M498 471.5h2M512 471.5h2M652 471.5h1M679 471.5h4M496 472.5h2M514 472.5h2M651 472.5h1M683 472.5h19M420 473.5h10M494 473.5h2M516 473.5h18M649 473.5h2M702 473.5h1M404 474.5h3M418 474.5h2M430 474.5h1M469 474.5h4M492 474.5h2M534 474.5h1M648 474.5h1M703 474.5h1M402 475.5h2M407 475.5h2M416 475.5h2M431 475.5h2M467 475.5h2M473 475.5h6M489 475.5h3M535 475.5h1M647 475.5h1M704 475.5h1M385 476.5h6M400 476.5h2M409 476.5h3M414 476.5h2M433 476.5h1M466 476.5h1M479 476.5h4M487 476.5h2M536 476.5h1M646 476.5h1M705 476.5h2M716 476.5h2M737 476.5h14M316 477.5h2M356 477.5h13M377 477.5h8M391 477.5h4M398 477.5h2M412 477.5h2M434 477.5h1M465 477.5h1M483 477.5h4M537 477.5h2M643 477.5h3M707 477.5h1M713 477.5h3M718 477.5h2M732 477.5h5M751 477.5h2M20 478.5h2M57 478.5h5M261 478.5h1M314 478.5h2M318 478.5h1M353 478.5h3M369 478.5h8M395 478.5h3M435 478.5h2M452 478.5h3M463 478.5h2M539 478.5h1M547 478.5h4M564 478.5h11M639 478.5h4M708 478.5h1M711 478.5h2M720 478.5h2M729 478.5h3M753 478.5h3M5 479.5h2M17 479.5h3M22 479.5h2M51 479.5h6M62 479.5h1M260 479.5h1M262 479.5h2M312 479.5h2M319 479.5h2M351 479.5h2M437 479.5h2M449 479.5h3M455 479.5h4M462 479.5h1M540 479.5h1M543 479.5h4M551 479.5h2M561 479.5h3M575 479.5h4M636 479.5h3M709 479.5h2M722 479.5h2M727 479.5h2M756 479.5h5M777 479.5h8M7 480.5h4M15 480.5h2M24 480.5h2M47 480.5h4M63 480.5h1M259 480.5h1M264 480.5h2M275 480.5h12M310 480.5h2M321 480.5h1M345 480.5h6M439 480.5h4M447 480.5h2M459 480.5h3M541 480.5h2M553 480.5h3M559 480.5h2M579 480.5h6M633 480.5h3M724 480.5h3M761 480.5h16M785 480.5h5M11 481.5h4M26 481.5h2M41 481.5h6M64 481.5h1M257 481.5h2M266 481.5h2M271 481.5h4M287 481.5h2M308 481.5h2M322 481.5h1M340 481.5h5M443 481.5h4M556 481.5h3M585 481.5h5M631 481.5h2M790 481.5h1M805 481.5h1M28 482.5h13M65 482.5h1M204 482.5h13M256 482.5h1M268 482.5h3M289 482.5h3M305 482.5h3M323 482.5h2M337 482.5h3M590 482.5h2M629 482.5h2M791 482.5h1M803 482.5h2M806 482.5h2M885 482.5h2M66 483.5h1M201 483.5h3M217 483.5h22M255 483.5h1M292 483.5h5M303 483.5h2M325 483.5h4M335 483.5h2M592 483.5h1M628 483.5h1M792 483.5h1M802 483.5h1M808 483.5h1M820 483.5h2M884 483.5h1M887 483.5h4M67 484.5h1M181 484.5h4M199 484.5h2M239 484.5h4M254 484.5h1M297 484.5h6M329 484.5h6M593 484.5h2M627 484.5h1M793 484.5h2M801 484.5h1M809 484.5h2M817 484.5h3M822 484.5h2M883 484.5h1M891 484.5h4M68 485.5h1M180 485.5h1M185 485.5h14M243 485.5h11M595 485.5h2M626 485.5h1M795 485.5h1M799 485.5h2M811 485.5h2M815 485.5h2M824 485.5h2M883 485.5h1M895 485.5h2M913 485.5h5M69 486.5h2M179 486.5h1M597 486.5h1M625 486.5h1M796 486.5h1M798 486.5h1M813 486.5h2M826 486.5h2M882 486.5h1M897 486.5h3M905 486.5h8M71 487.5h4M179 487.5h1M598 487.5h2M624 487.5h1M797 487.5h1M828 487.5h11M881 487.5h1M900 487.5h5M75 488.5h19M125 488.5h1M178 488.5h1M600 488.5h2M623 488.5h1M839 488.5h4M880 488.5h1M94 489.5h2M123 489.5h2M126 489.5h2M177 489.5h1M602 489.5h2M622 489.5h1M843 489.5h3M879 489.5h1M96 490.5h2M122 490.5h1M128 490.5h2M176 490.5h1M604 490.5h18M846 490.5h2M879 490.5h1M98 491.5h2M121 491.5h1M130 491.5h2M175 491.5h1M848 491.5h1M878 491.5h1M100 492.5h3M119 492.5h2M132 492.5h13M175 492.5h1M849 492.5h2M876 492.5h2M103 493.5h4M118 493.5h1M145 493.5h14M174 493.5h1M851 493.5h2M873 493.5h3M107 494.5h11M159 494.5h4M169 494.5h5M853 494.5h4M871 494.5h2M163 495.5h6M857 495.5h14" fill="none" stroke="#1e90ff" stroke-width="1" shape-rendering="crispEdges"/>
<g shape-rendering="crispEdges">
<line x1="6" y1="465.5" x2="1167" y2="465.5" stroke="#c0c0c0" stroke-width="1" stroke-dasharray="3 3"/>
<line x1="6" y1="490.5" x2="1167" y2="490.5" stroke="#c0c0c0" stroke-width="1" stroke-dasharray="3 3"/>
</g>
<g shape-rendering="crispEdges" fill="none" stroke="#000" stroke-width="1">
<rect x="4.5" y="24.5" width="1163" height="352"/>
<rect x="4.5" y="378.5" width="1163" height="64"/>
<rect x="4.5" y="444.5" width="1163" height="66"/>
</g>
<g shape-rendering="crispEdges">
<rect x="4" y="125" width="6" height="6" fill="#ff0000" />
<rect x="6" y="127" width="2" height="2" fill="#ffffff" />
<rect x="4" y="173" width="6" height="6" fill="#ff0000" />
<rect x="6" y="175" width="2" height="2" fill="#ffffff" />
<rect x="4" y="230" width="6" height="6" fill="#00ff00" />
<rect x="6" y="232" width="2" height="2" fill="#ffffff" />
<rect x="4" y="301" width="6" height="6" fill="#0000ff" />
<rect x="6" y="303" width="2" height="2" fill="#ffffff" />
<rect x="1167" y="127" width="2" height="2" fill="#ff0000" />
<rect x="1167" y="175" width="2" height="2" fill="#ff0000" />
<rect x="1167" y="232" width="2" height="2" fill="#00ff00" />
<rect x="1167" y="303" width="2" height="2" fill="#0000ff" />
<rect x="1167" y="369" width="2" height="2" fill="#0000ff" />
<rect x="1168" y="43" width="2" height="1" fill="#000" />
<rect x="1168" y="76" width="2" height="1" fill="#000" />
<rect x="1168" y="109" width="2" height="1" fill="#000" />
<rect x="1168" y="142" width="2" height="1" fill="#000" />
<rect x="1168" y="175" width="2" height="1" fill="#000" />
<rect x="1168" y="208" width="2" height="1" fill="#000" />
<rect x="1168" y="241" width="2" height="1" fill="#000" />
<rect x="1168" y="274" width="2" height="1" fill="#000" />
<rect x="1168" y="307" width="2" height="1" fill="#000" />
<rect x="1168" y="340" width="2" height="1" fill="#000" />
<rect x="1168" y="373" width="2" height="1" fill="#000" />
<rect x="1168" y="393" width="2" height="1" fill="#000" />
<rect x="1168" y="378" width="1" height="1" fill="#000" />
<rect x="1168" y="442" width="1" height="1" fill="#000" />
<rect x="1168" y="444" width="1" height="1" fill="#000" />
<rect x="1168" y="510" width="1" height="1" fill="#000" />
<rect x="5" y="511" width="1" height="3" fill="#000" />
<rect x="69" y="511" width="1" height="3" fill="#000" />
<rect x="133" y="511" width="1" height="3" fill="#000" />
<rect x="197" y="511" width="1" height="3" fill="#000" />
<rect x="261" y="511" width="1" height="3" fill="#000" />
<rect x="325" y="511" width="1" height="3" fill="#000" />
<rect x="389" y="511" width="1" height="3" fill="#000" />
<rect x="453" y="511" width="1" height="3" fill="#000" />
<rect x="517" y="511" width="1" height="3" fill="#000" />
<rect x="581" y="511" width="1" height="3" fill="#000" />
<rect x="645" y="511" width="1" height="3" fill="#000" />
<rect x="709" y="511" width="1" height="3" fill="#000" />
<rect x="773" y="511" width="1" height="3" fill="#000" />
<rect x="837" y="511" width="1" height="3" fill="#000" />
<rect x="901" y="511" width="1" height="3" fill="#000" />
</g>
<text x="1173.6" y="46.9" font-size="9.8" fill="#000" stroke="#000" stroke-width="0.2" textLength="31.6" lengthAdjust="spacingAndGlyphs" >1.16140</text>
<text x="1173.6" y="79.9" font-size="9.8" fill="#000" stroke="#000" stroke-width="0.2" textLength="31.6" lengthAdjust="spacingAndGlyphs" >1.15300</text>
<text x="1173.6" y="112.9" font-size="9.8" fill="#000" stroke="#000" stroke-width="0.2" textLength="31.6" lengthAdjust="spacingAndGlyphs" >1.14480</text>
<text x="1173.6" y="145.9" font-size="9.8" fill="#000" stroke="#000" stroke-width="0.2" textLength="31.6" lengthAdjust="spacingAndGlyphs" >1.13660</text>
<text x="1173.6" y="211.9" font-size="9.8" fill="#000" stroke="#000" stroke-width="0.2" textLength="31.6" lengthAdjust="spacingAndGlyphs" >1.12020</text>
<text x="1173.6" y="244.9" font-size="9.8" fill="#000" stroke="#000" stroke-width="0.2" textLength="31.6" lengthAdjust="spacingAndGlyphs" >1.11200</text>
<text x="1173.6" y="277.9" font-size="9.8" fill="#000" stroke="#000" stroke-width="0.2" textLength="31.6" lengthAdjust="spacingAndGlyphs" >1.10360</text>
<text x="1173.6" y="343.9" font-size="9.8" fill="#000" stroke="#000" stroke-width="0.2" textLength="31.6" lengthAdjust="spacingAndGlyphs" >1.08720</text>
<text x="1173.6" y="376.9" font-size="9.8" fill="#000" stroke="#000" stroke-width="0.2" textLength="31.6" lengthAdjust="spacingAndGlyphs" >1.07900</text>
<g shape-rendering="crispEdges">
<rect x="1169" y="122" width="38" height="11" fill="#ff0000" />
<rect x="1169" y="170" width="38" height="11" fill="#ff0000" />
<rect x="1169" y="227" width="38" height="11" fill="#00ff00" />
<rect x="1169" y="364" width="38" height="11" fill="#0000ff" />
<rect x="1169" y="309" width="38" height="9.8" fill="#000000" />
<rect x="1169" y="298" width="38" height="11" fill="#0000ff" />
</g>
<text x="1173.9" y="131.4" font-size="9.8" fill="#fff" stroke="#fff" stroke-width="0.2" textLength="31.8" lengthAdjust="spacingAndGlyphs" >1.14024</text>
<text x="1173.9" y="179.4" font-size="9.8" fill="#fff" stroke="#fff" stroke-width="0.2" textLength="31.8" lengthAdjust="spacingAndGlyphs" >1.12810</text>
<text x="1173.9" y="236.4" font-size="9.8" fill="#fff" stroke="#fff" stroke-width="0.2" textLength="31.8" lengthAdjust="spacingAndGlyphs" >1.11398</text>
<text x="1173.9" y="307.2" font-size="9.8" fill="#fff" stroke="#fff" stroke-width="0.2" textLength="31.8" lengthAdjust="spacingAndGlyphs" >1.09626</text>
<text x="1173.9" y="316" font-size="9.8" fill="#fff" stroke="#fff" stroke-width="0.2" textLength="31.8" lengthAdjust="spacingAndGlyphs" >1.09416</text>
<text x="1173.9" y="373.3" font-size="9.8" fill="#fff" stroke="#fff" stroke-width="0.2" textLength="31.8" lengthAdjust="spacingAndGlyphs" >1.07984</text>
<text x="1171.2" y="389.3" font-size="9.8" fill="#000" stroke="#000" stroke-width="0.2" textLength="39.5" lengthAdjust="spacingAndGlyphs" >0.003408</text>
<text x="1171.2" y="396.7" font-size="9.8" fill="#000" stroke="#000" stroke-width="0.2" textLength="17.3" lengthAdjust="spacingAndGlyphs" >0.00</text>
<text x="1171.2" y="438.6" font-size="9.8" fill="#000" stroke="#000" stroke-width="0.2" textLength="35.2" lengthAdjust="spacingAndGlyphs" >-0.01205</text>
<text x="1171.5" y="454.8" font-size="9.8" fill="#000" stroke="#000" stroke-width="0.2" textLength="14.4" lengthAdjust="spacingAndGlyphs" >100</text>
<text x="1170.8" y="469.1" font-size="9.8" fill="#000" stroke="#000" stroke-width="0.2" textLength="9.2" lengthAdjust="spacingAndGlyphs" >70</text>
<text x="1170.8" y="494" font-size="9.8" fill="#000" stroke="#000" stroke-width="0.2" textLength="9.2" lengthAdjust="spacingAndGlyphs" >30</text>
<text x="1170.9" y="506.9" font-size="9.8" fill="#000" stroke="#000" stroke-width="0.2" >0</text>
<path d="M8 31 L15 31 L11.5 35 Z" fill="#000"/>
<text x="20.4" y="35.8" font-size="9.8" fill="#000" stroke="#000" stroke-width="0.2" textLength="66.1" lengthAdjust="spacingAndGlyphs" >EURUSD-,Daily</text>
<text x="93.9" y="35.8" font-size="9.8" fill="#000" stroke="#000" stroke-width="0.2" textLength="32" lengthAdjust="spacingAndGlyphs" >1.09309</text>
<text x="129.7" y="35.8" font-size="9.8" fill="#000" stroke="#000" stroke-width="0.2" textLength="32" lengthAdjust="spacingAndGlyphs" >1.09929</text>
<text x="165.6" y="35.8" font-size="9.8" fill="#000" stroke="#000" stroke-width="0.2" textLength="32" lengthAdjust="spacingAndGlyphs" >1.08997</text>
<text x="201.7" y="35.8" font-size="9.8" fill="#000" stroke="#000" stroke-width="0.2" textLength="32" lengthAdjust="spacingAndGlyphs" >1.09416</text>
<text x="9.3" y="390.4" font-size="9.8" fill="#000" stroke="#000" stroke-width="0.2" textLength="65.6" lengthAdjust="spacingAndGlyphs" >MACD(12,26,9)</text>
<text x="78.2" y="390.4" font-size="9.8" fill="#000" stroke="#000" stroke-width="0.2" textLength="39.8" lengthAdjust="spacingAndGlyphs" >-0.010052</text>
<text x="122" y="390.4" font-size="9.8" fill="#000" stroke="#000" stroke-width="0.2" textLength="41" lengthAdjust="spacingAndGlyphs" >-0.009994</text>
<text x="9" y="456.7" font-size="9.8" fill="#000" stroke="#000" stroke-width="0.2" textLength="31.4" lengthAdjust="spacingAndGlyphs" >RSI(14)</text>
<text x="44.4" y="456.7" font-size="9.8" fill="#000" stroke="#000" stroke-width="0.2" textLength="32.2" lengthAdjust="spacingAndGlyphs" >37.9575</text>
<text x="4.8" y="523.3" font-size="9.8" fill="#000" stroke="#000" stroke-width="0.2" textLength="47.4" lengthAdjust="spacingAndGlyphs" >1 Nov 2021</text>
<text x="68.8" y="523.3" font-size="9.8" fill="#000" stroke="#000" stroke-width="0.2" textLength="52.8" lengthAdjust="spacingAndGlyphs" >10 Nov 2021</text>
<text x="132.8" y="523.3" font-size="9.8" fill="#000" stroke="#000" stroke-width="0.2" textLength="52.2" lengthAdjust="spacingAndGlyphs" >19 Nov 2021</text>
<text x="196.8" y="523.3" font-size="9.8" fill="#000" stroke="#000" stroke-width="0.2" textLength="52.5" lengthAdjust="spacingAndGlyphs" >29 Nov 2021</text>
<text x="260.8" y="523.3" font-size="9.8" fill="#000" stroke="#000" stroke-width="0.2" textLength="45.9" lengthAdjust="spacingAndGlyphs" >8 Dec 2021</text>
<text x="324.8" y="523.3" font-size="9.8" fill="#000" stroke="#000" stroke-width="0.2" textLength="50.9" lengthAdjust="spacingAndGlyphs" >17 Dec 2021</text>
<text x="388.8" y="523.3" font-size="9.8" fill="#000" stroke="#000" stroke-width="0.2" textLength="50.9" lengthAdjust="spacingAndGlyphs" >27 Dec 2021</text>
<text x="452.8" y="523.3" font-size="9.8" fill="#000" stroke="#000" stroke-width="0.2" textLength="43.7" lengthAdjust="spacingAndGlyphs" >5 Jan 2022</text>
<text x="516.8" y="523.3" font-size="9.8" fill="#000" stroke="#000" stroke-width="0.2" textLength="48.5" lengthAdjust="spacingAndGlyphs" >14 Jan 2022</text>
<text x="580.8" y="523.3" font-size="9.8" fill="#000" stroke="#000" stroke-width="0.2" textLength="49.1" lengthAdjust="spacingAndGlyphs" >24 Jan 2022</text>
<text x="644.8" y="523.3" font-size="9.8" fill="#000" stroke="#000" stroke-width="0.2" textLength="45.6" lengthAdjust="spacingAndGlyphs" >2 Feb 2022</text>
<text x="708.8" y="523.3" font-size="9.8" fill="#000" stroke="#000" stroke-width="0.2" textLength="50.9" lengthAdjust="spacingAndGlyphs" >11 Feb 2022</text>
<text x="772.8" y="523.3" font-size="9.8" fill="#000" stroke="#000" stroke-width="0.2" textLength="50.9" lengthAdjust="spacingAndGlyphs" >21 Feb 2022</text>
<text x="836.8" y="523.3" font-size="9.8" fill="#000" stroke="#000" stroke-width="0.2" textLength="45.9" lengthAdjust="spacingAndGlyphs" >2 Mar 2022</text>
<text x="900.8" y="523.3" font-size="9.8" fill="#000" stroke="#000" stroke-width="0.2" textLength="50.4" lengthAdjust="spacingAndGlyphs" >11 Mar 2022</text>
</svg>
</body></html>
